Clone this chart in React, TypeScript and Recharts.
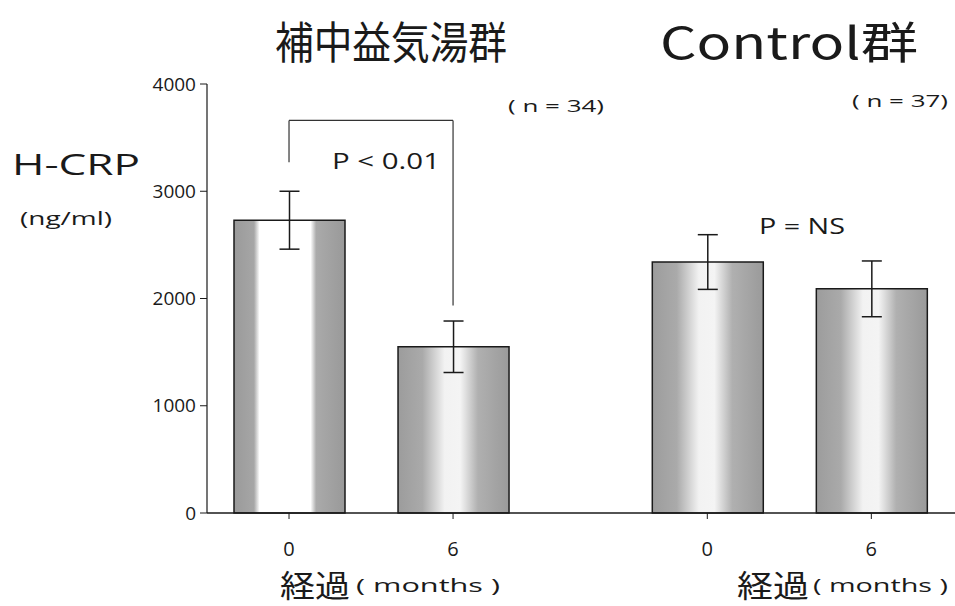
import { BarChart, Bar, XAxis, YAxis, ErrorBar, Cell, ReferenceLine } from 'recharts'

// x positions of the four bars on a numeric axis (gap between the two groups)
const positions = [0.5, 1.5, 3.05, 4.05]
const monthLabels = ['0', '6', '0', '6']
const means = [2730, 1550, 2340, 2090]
const errors = [270, 240, 255, 260]
const yTicks = [0, 1000, 2000, 3000, 4000]

// significance bracket between the two 補中益気湯群 bars
const bracketTop = 3660
const bracketLeftEnd = 3270
const bracketRightEnd = 1935

const data = positions.map((x, i) => ({
  x,
  label: monthLabels[i],
  mean: means[i],
  err: errors[i],
}))

const LATIN = '"Open Sans", "DejaVu Sans", sans-serif'
const CJK = '"Noto Sans CJK JP", sans-serif'
const INK = '#1a1a1a'

const tickLabel = (v: number) => {
  const i = positions.indexOf(v)
  return i >= 0 ? monthLabels[i] : ''
}

export default function App() {
  return (
    <div style={{ position: 'absolute', left: 0, top: 0, width: 955, height: 606, background: '#fff' }}>
      <BarChart
        width={955}
        height={606}
        data={data}
        margin={{ top: 84, right: 0, left: 0, bottom: 33 }}
      >
        <defs>
          <linearGradient id="barHard" x1="0" y1="0" x2="1" y2="0">
            <stop offset="0%" stopColor="#9a9a9a" />
            <stop offset="18%" stopColor="#a6a6a6" />
            <stop offset="23%" stopColor="#ffffff" />
            <stop offset="69%" stopColor="#ffffff" />
            <stop offset="74%" stopColor="#aaaaaa" />
            <stop offset="100%" stopColor="#999999" />
          </linearGradient>
          <linearGradient id="barSoft" x1="0" y1="0" x2="1" y2="0">
            <stop offset="0%" stopColor="#9c9c9c" />
            <stop offset="22%" stopColor="#aaaaaa" />
            <stop offset="42%" stopColor="#f2f2f2" />
            <stop offset="56%" stopColor="#f4f4f4" />
            <stop offset="72%" stopColor="#b0b0b0" />
            <stop offset="100%" stopColor="#9a9a9a" />
          </linearGradient>
        </defs>
        <XAxis
          dataKey="x"
          type="number"
          domain={[0, 4.56]}
          ticks={positions}
          tickFormatter={tickLabel}
          height={60}
          tickSize={6}
          tickMargin={23}
          axisLine={{ stroke: INK, strokeWidth: 1.5 }}
          tickLine={{ stroke: INK }}
          tick={{ fontSize: 20, fill: INK, fontFamily: LATIN }}
          allowDataOverflow
        />
        <YAxis
          type="number"
          domain={[0, 4000]}
          ticks={yTicks}
          width={207}
          tickSize={7}
          tickMargin={4}
          axisLine={{ stroke: INK, strokeWidth: 1.2 }}
          tickLine={{ stroke: INK }}
          tick={{ fontSize: 19, fill: INK, fontFamily: LATIN }}
        />
        <Bar dataKey="mean" barSize={111} stroke={INK} strokeWidth={1.5} isAnimationActive={false}>
          {data.map((d, i) => (
            <Cell key={`cell-${i}`} fill={i === 0 ? 'url(#barHard)' : 'url(#barSoft)'} />
          ))}
          <ErrorBar dataKey="err" width={10} stroke={INK} strokeWidth={1.5} direction="y" />
        </Bar>
        <ReferenceLine
          segment={[{ x: positions[0], y: bracketLeftEnd }, { x: positions[0], y: bracketTop }]}
          stroke="#333"
          strokeWidth={1.2}
          ifOverflow="visible"
        />
        <ReferenceLine
          segment={[{ x: positions[0], y: bracketTop }, { x: positions[1], y: bracketTop }]}
          stroke="#333"
          strokeWidth={1.2}
          ifOverflow="visible"
        />
        <ReferenceLine
          segment={[{ x: positions[1], y: bracketTop }, { x: positions[1], y: bracketRightEnd }]}
          stroke="#333"
          strokeWidth={1.2}
          ifOverflow="visible"
        />
      </BarChart>

      <svg
        width={955}
        height={606}
        style={{ position: 'absolute', left: 0, top: 0, pointerEvents: 'none' }}
      >
        <g fill={INK} style={{ whiteSpace: 'pre' }}>
          <text x={275} y={40} fontFamily={CJK} fontSize={44} dominantBaseline="central" textLength={232} lengthAdjust="spacingAndGlyphs">補中益気湯群</text>
          <text x={660} y={40} fontFamily={CJK} fontSize={44} dominantBaseline="central" textLength={258} lengthAdjust="spacingAndGlyphs">Control群</text>

          <text x={12} y={163} fontFamily={LATIN} fontSize={30} dominantBaseline="central" textLength={128} lengthAdjust="spacingAndGlyphs">H-CRP</text>
          <text x={20} y={218} fontFamily={LATIN} fontSize={19} dominantBaseline="central" textLength={92} lengthAdjust="spacingAndGlyphs">(ng/ml)</text>

          <text x={508} y={105} fontFamily={LATIN} fontSize={17} dominantBaseline="central" textLength={96} lengthAdjust="spacingAndGlyphs">( n = 34)</text>
          <text x={852} y={100} fontFamily={LATIN} fontSize={17} dominantBaseline="central" textLength={96} lengthAdjust="spacingAndGlyphs">( n = 37)</text>

          <text x={332} y={160} fontFamily={LATIN} fontSize={22} dominantBaseline="central" textLength={108} lengthAdjust="spacingAndGlyphs">P &lt; 0.01</text>
          <text x={759} y={225} fontFamily={LATIN} fontSize={22} dominantBaseline="central" textLength={86} lengthAdjust="spacingAndGlyphs">P = NS</text>

          <text x={280} y={583} fontFamily={CJK} fontSize={31} dominantBaseline="central" textLength={70} lengthAdjust="spacingAndGlyphs">経過</text>
          <text x={356} y={585} fontFamily={LATIN} fontSize={19} dominantBaseline="central" textLength={144} lengthAdjust="spacingAndGlyphs">( months )</text>
          <text x={737} y={583} fontFamily={CJK} fontSize={31} dominantBaseline="central" textLength={72} lengthAdjust="spacingAndGlyphs">経過</text>
          <text x={813} y={585} fontFamily={LATIN} fontSize={19} dominantBaseline="central" textLength={135} lengthAdjust="spacingAndGlyphs">( months )</text>
        </g>
      </svg>
    </div>
  )
}
